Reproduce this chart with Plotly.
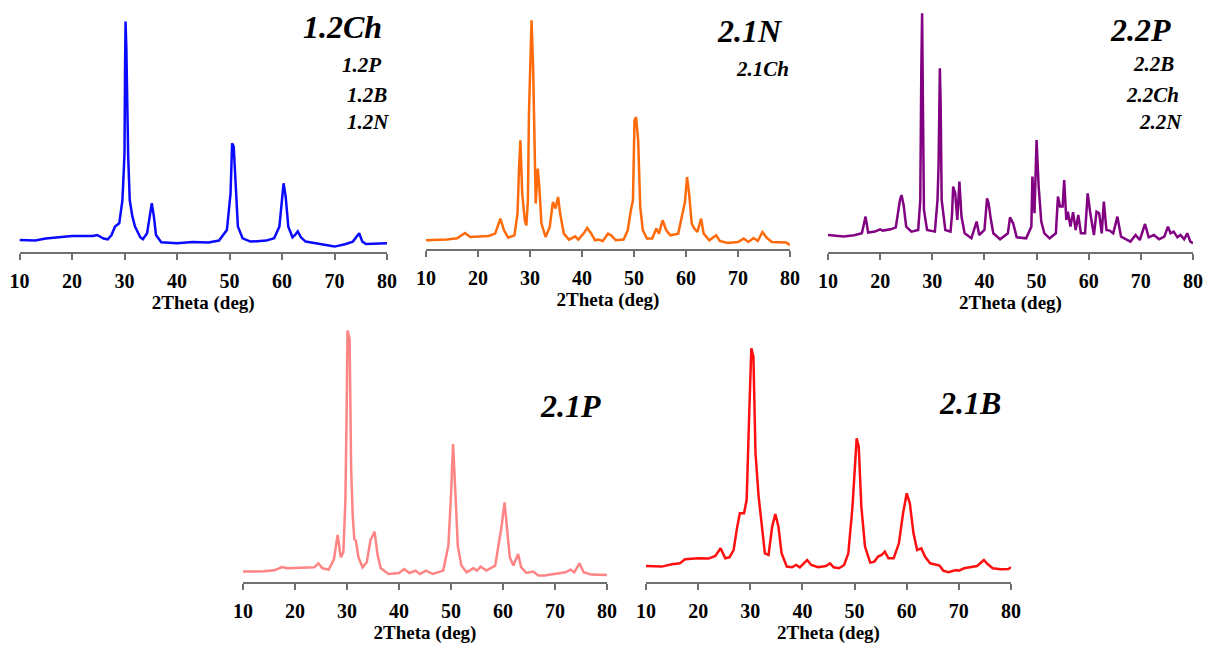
import plotly.graph_objects as go

# ---------------- data (intensity in arbitrary units) ----------------
tt_12Ch = [10, 13, 15, 18, 20, 24, 24.8, 26, 26.8, 27.5, 28.2, 29, 29.6, 29.85, 30.0, 30.1, 30.2, 30.35, 30.5, 30.7, 31, 31.5, 32, 33, 33.5,
           34.3, 34.8, 35.2, 35.6, 36, 37, 40, 43, 46, 48, 49.5, 50.2, 50.5, 50.8, 51.2, 51.6, 52.5, 54, 57, 58.5, 59.5, 60.0, 60.3,
           60.7, 61.2, 62, 62.5, 63, 63.6, 64.5, 67, 70, 72, 73.5, 74.7, 75.3, 76, 80]
int_12Ch = [12.3, 11.7, 13.7, 15, 16.3, 16.3, 17.3, 13.7, 13, 17, 25.7, 29, 52, 80, 99, 180, 230.7, 205, 150, 95.7, 52, 35.7, 25.7, 15, 13,
            19, 35.7, 49, 35.7, 17.3, 10, 9, 10.3, 9.7, 11.7, 22.3, 59, 109, 105.7, 65.7, 25.7, 14, 10.7, 11.7, 14, 25.7, 52, 69,
            55.7, 25.7, 15, 17.3, 21, 15, 10.7, 8.3, 5.7, 8, 10.7, 19, 10.7, 8.3, 9]

tt_21N = [10, 14, 16, 17.5, 18.5, 22, 23.3, 24.3, 25, 25.8, 27, 27.6, 27.9, 28.15, 28.5, 29, 29.3, 29.6, 29.8, 30.0, 30.3, 30.6, 30.9, 31.1,
          31.5, 31.8, 32.2, 33, 33.8, 34.4, 34.9, 35.4, 35.8, 36.5, 37.5, 38.7, 39.3, 40.3, 41, 41.7, 42.5, 43.1, 44, 45, 45.6, 46.5, 48,
          48.8, 49.4, 49.8, 50.1, 50.4, 50.8, 51.2, 51.7, 52.5, 53.5, 54.3, 54.8, 55.5, 56.2, 57, 58.5, 59.3, 59.8, 60.2, 60.6, 61.1,
          61.6, 62.2, 62.9, 63.4, 64.5, 65.8, 66.5, 68, 70, 71.1, 72, 73, 73.8, 74.7, 75.5, 76.5, 78, 79.3, 80]
int_21N = [9, 9.7, 11, 16.3, 12.3, 13.3, 15.7, 30.7, 19, 11.7, 14, 35.7, 82.3, 109, 55.7, 29, 24, 49, 135.7, 182, 229, 182, 89, 45.7,
           80.7, 62, 25.7, 12.3, 22.3, 47.3, 40.7, 52.3, 35.7, 15.7, 9.7, 13, 9.7, 15.7, 21.3, 16.3, 9, 9.7, 8.3, 15.7, 14, 9, 9.7,
           19, 39, 49, 129, 132.3, 109, 42.3, 19, 10.7, 10.7, 20.7, 15.7, 29, 19, 14, 15.7, 35.7, 47.3, 72.3, 55.7, 25.7,
           20.7, 17.3, 30.7, 15.7, 9, 14, 8.3, 6.3, 7.3, 10.7, 7.3, 11.3, 8.3, 17.3, 11.7, 7.3, 7.3, 6.7, 4]

tt_22P = [10, 13, 15, 16.5, 17.2, 17.7, 19, 20, 20.5, 22, 23, 23.8, 24.1, 24.5, 25, 26, 27.3, 27.7, 27.9, 28.05, 28.2, 28.4, 29, 30.5,
          31.0, 31.2, 31.45, 31.6, 31.8, 32.5, 33.5, 33.8, 34.0, 34.4, 34.8, 35.2, 35.6, 36.2, 37.5, 38.5, 39, 40, 40.5, 40.8, 41.2,
          41.7, 43, 44.5, 44.9, 45.5, 46.2, 48, 49, 49.2, 49.6, 50.0, 50.4, 50.9, 51.5, 52.5, 53.7, 54.1, 54.5, 55.0, 55.3, 55.7, 56.0,
          56.5, 57.0, 57.5, 58.0, 58.5, 59.3, 59.8, 60.3, 61, 61.5, 62.0, 62.5, 62.9, 63.4, 64, 64.7, 65.5, 66.2, 68, 69, 69.8, 70.8,
          71.5, 72.5, 73.5, 74.5, 75.2, 75.7, 76.3, 77, 77.6, 78.3, 78.9, 79.5, 80]
int_22P = [17.3, 15.7, 17, 19, 35.7, 19.7, 20.7, 23, 21.7, 23, 25, 52.3, 57.3, 47.3, 25.7, 20.7, 22.3, 52.3, 185.7, 239, 150, 42.3, 22.3, 20.7,
           52.3, 85.7, 184, 150, 52.3, 22.3, 20.7, 39, 65.7, 59, 32.3, 70.7, 35.7, 19, 14, 30.7, 17.3, 22.3, 54, 49, 34,
           19, 13, 19, 35, 29, 15, 14, 25.7, 75.7, 39, 112.3, 65.7, 30.7, 19, 14, 19, 55.7, 45.7, 45.7, 72.3, 32.3, 40.7,
           25.7, 40, 22.3, 37.3, 19, 19, 59, 39, 17.3, 40.7, 39, 19, 50.7, 22.3, 21.7, 19, 35.7, 15.7, 10.7, 17.3, 12.3, 28.3,
           15, 17.3, 13, 15.7, 25.7, 19, 20.7, 15, 17.3, 13, 19, 10.7, 9]

tt_21P = [10, 14, 16, 17.5, 18.5, 22, 23.7, 24.5, 25.3, 26.5, 27.5, 28.2, 28.8, 29.3, 29.7, 29.95, 30.1, 30.5, 30.8, 31.1, 31.4, 31.7, 32.2,
          33, 33.8, 34.5, 35.3, 35.9, 36.5, 38, 40, 41, 42, 43.2, 44, 45.2, 46.5, 48.5, 49.5, 50.0, 50.4, 50.9, 51.3, 52, 53, 54.3,
          55, 55.7, 56.8, 58.5, 59.3, 59.7, 60.3, 60.8, 61.3, 62, 62.9, 63.5, 64.5, 65.8, 66.8, 68, 70, 72, 73, 73.7, 74.7, 75.5,
          77, 80]
int_21P = [10.7, 11, 12, 15.3, 14, 15, 15, 19, 14, 12.7, 23.3, 47.3, 25, 30, 83.3, 180, 251.7, 243.3, 113.3, 66.7, 43.3, 41.7, 25,
           15, 20, 41.7, 50.7, 26.7, 14, 8.3, 9.3, 13.3, 9.3, 11.7, 8.3, 11.7, 8.3, 11.7, 36.7, 86.7, 138.3, 83.3, 36.7, 16.7, 10, 14,
           11.7, 15.7, 11.7, 16.7, 43.3, 55, 80, 50, 25, 16.7, 28.3, 15, 9.3, 10.7, 6.7, 6.7, 8.3, 10, 12.7, 10, 19, 10,
           7.7, 7.3]

tt_21B = [10, 13, 15, 16.5, 17.5, 20, 22, 23.3, 24.3, 25.2, 26, 26.8, 27.5, 28, 28.8, 29.3, 29.8, 30.2, 30.6, 31.0, 31.6, 32.2, 32.8,
          33.5, 34.2, 34.8, 35.4, 36, 37, 38, 38.8, 39.5, 40.9, 41.7, 43, 44.5, 45.3, 46, 47, 48, 48.8, 49.6, 50.4, 50.8, 51.3, 52,
          53, 53.8, 54.5, 55.2, 55.8, 56.5, 57.5, 58.5, 59.3, 60.0, 60.6, 61.3, 62, 62.8, 63.5, 64.5, 65.5, 66.3, 67, 68, 69.5, 70,
          71, 72.5, 73.5, 74.8, 75.5, 76.5, 78, 79.5, 80]
int_21B = [16.3, 15.7, 18, 19, 23, 24, 23.7, 26.3, 34, 24, 25, 32.3, 55.7, 69, 69, 82.3, 169, 234, 225.7, 129, 85.7, 55.7, 29,
           27.3, 55.7, 68.3, 55.7, 29, 15.7, 15, 17.3, 15, 22.3, 17.3, 15, 16.3, 19, 15, 14, 17.3, 29, 75.7, 144, 135.7, 75.7, 35.7,
           19.7, 20.7, 25.7, 27.3, 30.7, 24, 24, 39, 69, 89, 79, 49, 32.3, 34, 25.7, 19, 17.3, 16.7, 11.7, 10, 12.3, 11.7,
           14, 15.7, 16.3, 22.3, 18.3, 14, 13, 13.3, 15]

x_ticks = [10, 20, 30, 40, 50, 60, 70, 80]
axis_title = "2Theta (deg)"

panels = [
    # x values, y values, colour, main label, sub labels
    (tt_12Ch, int_12Ch, "#0a0aff", "1.2Ch", ["1.2P", "1.2B", "1.2N"]),
    (tt_21N, int_21N, "#ff6a0a", "2.1N", ["2.1Ch"]),
    (tt_22P, int_22P, "#820082", "2.2P", ["2.2B", "2.2Ch", "2.2N"]),
    (tt_21P, int_21P, "#ff8585", "2.1P", []),
    (tt_21B, int_21B, "#ff1010", "2.1B", []),
]

# ---------------- layout geometry (pixels in a 1205x646 page) ----------------
W, H = 1205, 646
# (x of 10 deg, x of 80 deg, y of axis line, y of top)
boxes = [
    (19.5, 387, 252.3, 10),
    (426, 790, 249.3, 10),
    (828, 1193, 252.3, 10),
    (243, 607, 582.3, 325),
    (646, 1011, 582.3, 325),
]
main_pos = [(342, 27), (750, 31), (1140, 30), (570, 406), (970, 403)]
sub_pos = [[(361, 65), (367, 95), (368, 122)],
           [(762, 69)],
           [(1153, 64), (1152, 95), (1160, 122)],
           [], []]

fig = go.Figure()
font_family = "Liberation Serif, Times New Roman, serif"
annotations = []
for i, ((xs, ys, col, main, subs), (x0, x1, yb, yt)) in enumerate(zip(panels, boxes)):
    n = "" if i == 0 else str(i + 1)
    fig.add_trace(go.Scatter(x=xs, y=ys, mode="lines", line=dict(color=col, width=2.5),
                             xaxis="x" + n, yaxis="y" + n, showlegend=False, hoverinfo="skip"))
    fig.update_layout(**{
        "xaxis" + n: dict(domain=[x0 / W, x1 / W], range=[10, 80], anchor="y" + n, automargin=False,
                          tickvals=x_ticks, ticks="outside", ticklen=6, tickwidth=1.5, tickcolor="#707070",
                          showline=True, linecolor="#707070", linewidth=1.5, showgrid=False, zeroline=False,
                          tickfont=dict(family=font_family, size=20, color="black", weight="bold"),
                          ticklabelstandoff=4,
                          title=dict(text=axis_title, standoff=4,
                                     font=dict(family=font_family, size=19, color="black", weight="bold"))),
        "yaxis" + n: dict(domain=[1 - yb / H, 1 - yt / H], range=[0, yb - yt], anchor="x" + n, automargin=False,
                          visible=False, showgrid=False, zeroline=False),
    })
    mx, my = main_pos[i]
    annotations.append(dict(x=mx / W, y=1 - my / H, xref="paper", yref="paper", text=main, showarrow=False,
                            xanchor="center", yanchor="middle",
                            font=dict(family=font_family, size=32, color="black", weight="bold", style="italic")))
    for s, (sx, sy) in zip(subs, sub_pos[i]):
        annotations.append(dict(x=sx / W, y=1 - sy / H, xref="paper", yref="paper", text=s, showarrow=False,
                                xanchor="center", yanchor="middle",
                                font=dict(family=font_family, size=21, color="black", weight="bold", style="italic")))

fig.update_layout(width=W, height=H, margin=dict(l=0, r=0, t=0, b=0), paper_bgcolor="white",
                  plot_bgcolor="white", annotations=annotations, hovermode=False)
fig.write_html("out.html", config={"displayModeBar": False},
               post_script="document.body.style.margin='0px';document.body.style.overflow='hidden';")
